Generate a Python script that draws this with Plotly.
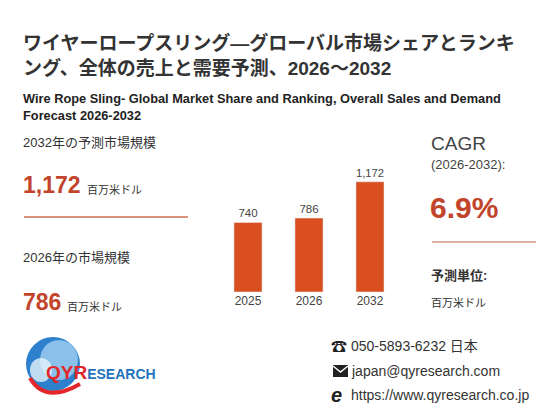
import plotly.graph_objects as go

# the page puts an 8px body margin around the figure, so it is drawn 8px smaller
OFF = 8
W, H = 560 - OFF, 420 - OFF

years = ["2025", "2026", "2032"]
sales = [740, 786, 1172]
cagr = "6.9%"
unit = "百万米ドル"

title_jp = "ワイヤーロープスリング—グローバル市場シェアとランキ<br>ング、全体の売上と需要予測、2026～2032"
title_en = "Wire Rope Sling- Global Market Share and Ranking, Overall Sales and Demand<br>Forecast 2026-2032"
contacts = ["050-5893-6232 日本", "japan@qyresearch.com", "https://www.qyresearch.co.jp"]

FONT = "Liberation Sans, Noto Sans CJK JP, sans-serif"
RED = "#c2452b"
BAR = "#d94f1f"
TXT = "#333333"


def px(x):
    return (x - OFF) / W


def py(y):
    return 1 - (y - OFF) / H


fig = go.Figure()
fig.add_trace(go.Bar(
    x=years, y=sales, marker_color=BAR,
    texttemplate="%{y:,}", textposition="outside",
    textfont=dict(size=11.5, color="#444", family=FONT),
    cliponaxis=False, hoverinfo="skip",
))

annos = []


def txt(x, y, s, size, color=TXT, bold=False):
    if bold:
        s = "<b>" + s + "</b>"
    annos.append(dict(x=px(x), y=py(y), xref="paper", yref="paper", text=s,
                      xanchor="left", yanchor="middle", showarrow=False, align="left",
                      font=dict(size=size, color=color, family=FONT)))


# headings
txt(21, 55, title_jp, 19, bold=True)
txt(21, 107, title_en, 12.8, color="#222", bold=True)

# left column
txt(21, 142, "2032年の予測市場規模", 13)
txt(21, 185, f"{sales[2]:,}", 23, color=RED, bold=True)
txt(85, 190, unit, 11)
txt(21, 258, "2026年の市場規模", 13)
txt(21, 302, f"{sales[1]:,}", 23, color=RED, bold=True)
txt(65, 307, unit, 11)

# right column
txt(429, 143, "CAGR", 19, color="#444")
txt(429, 165, "(2026-2032):", 13, color="#444")
txt(428, 207, cagr, 30, color=RED, bold=True)
txt(429, 275, "予測単位:", 13, bold=True)
txt(429, 303, unit, 11)

# contacts
for i, c in enumerate(contacts):
    txt(349, 346 + i * 24.5, c, 14)
txt(329, 346, "☎", 16, color="#222")
txt(329, 395, "<i>e</i>", 20, color="#222", bold=True)

# logo text
annos.append(dict(x=px(44), y=py(372), xref="paper", yref="paper", showarrow=False,
                  xanchor="left", yanchor="middle",
                  text="<b><span style='color:#e2262a;font-size:19px'>QYR</span>"
                       "<span style='color:#1f73bd;font-size:14px'>ESEARCH</span></b>",
                  font=dict(family=FONT)))

shapes = [
    dict(type="line", xref="paper", yref="paper", x0=px(24), x1=px(188), y0=py(217), y1=py(217),
         line=dict(color="#cf6e55", width=1.5)),
    dict(type="line", xref="paper", yref="paper", x0=px(432), x1=px(536), y0=py(242), y1=py(242),
         line=dict(color="#d59a8c", width=1.5)),
    # envelope icon
    dict(type="rect", xref="paper", yref="paper", x0=px(333), x1=px(348), y0=py(377), y1=py(365),
         fillcolor="#222", line=dict(width=0)),
    dict(type="path", xref="paper", yref="paper",
         path=f"M {px(333)},{py(366)} L {px(340.5)},{py(372)} L {px(348)},{py(366)}",
         line=dict(color="white", width=1.5)),
    # globe
    dict(type="circle", xref="paper", yref="paper", x0=px(26), x1=px(80), y0=py(391), y1=py(337),
         fillcolor="#2c80cc", line=dict(width=0), layer="below"),
    dict(type="circle", xref="paper", yref="paper", x0=px(40), x1=px(78), y0=py(380), y1=py(340),
         fillcolor="#a9d5f3", opacity=0.75, line=dict(width=0), layer="below"),
    dict(type="circle", xref="paper", yref="paper", x0=px(30), x1=px(52), y0=py(382), y1=py(358),
         fillcolor="#e6f2fb", opacity=0.8, line=dict(width=0), layer="below"),
    dict(type="path", xref="paper", yref="paper",
         path=f"M {px(30)},{py(378)} Q {px(45)},{py(404)} {px(80)},{py(384)}",
         line=dict(color="#e2262a", width=4), layer="below"),
]

fig.update_layout(
    width=W, height=H, margin=dict(l=0, r=0, t=0, b=0),
    paper_bgcolor="white", plot_bgcolor="white",
    showlegend=False, bargap=0.54,
    annotations=annos, shapes=shapes,
    xaxis=dict(domain=[px(217.5), px(400.5)], showgrid=False, showline=False, zeroline=False,
               ticks="", tickfont=dict(size=12, color="#444", family=FONT), fixedrange=True),
    yaxis=dict(domain=[py(292), py(162)], range=[0, 1383], visible=False, fixedrange=True),
)

fig.write_html("out.html")
